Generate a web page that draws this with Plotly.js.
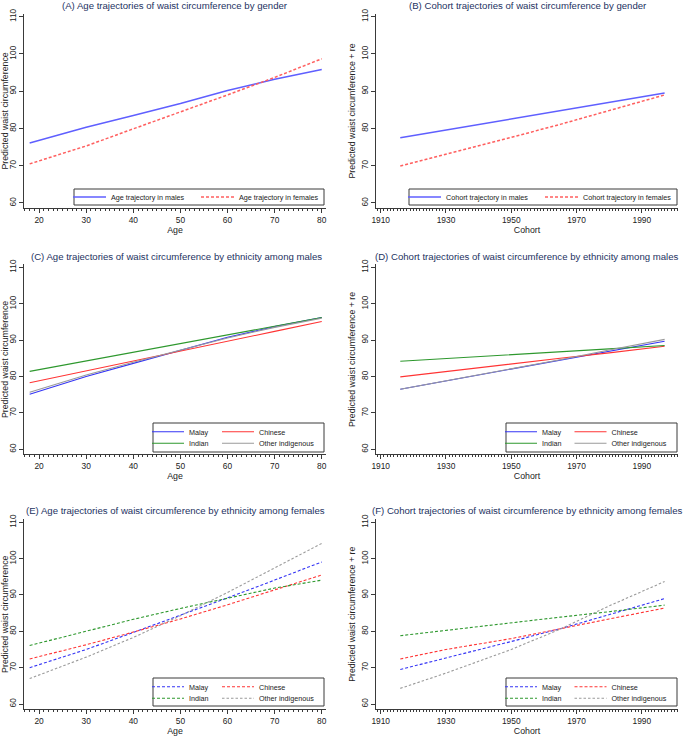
<!DOCTYPE html>
<html>
<head>
<meta charset="utf-8">
<script src="https://cdn.plot.ly/plotly-3.0.1.min.js"></script>
<style>html,body{margin:0;padding:0;background:#fff;}#chart{width:685px;height:739px;}</style>
</head>
<body>
<div id="chart"></div>
<script>
// ---------- data ----------
const ageX = [18, 30, 40, 50, 60, 70, 80];
const cohortX = [1916, 1930, 1950, 1965, 1980, 1997];

// (A) age trajectories by gender
const ageMales   = [76.1, 80.3, 83.5, 86.7, 90.2, 93.2, 95.8];
const ageFemales = [70.5, 75.3, 79.9, 84.4, 89.0, 93.7, 98.7];

// (B) cohort trajectories by gender
const cohortMales   = [77.5, 79.6, 82.5, 84.7, 87.0, 89.5];
const cohortFemales = [69.9, 73.0, 77.6, 81.1, 84.9, 89.0];

// (C) age trajectories by ethnicity, males
const ageMalayM   = [75.1, 80.0, 83.6, 87.1, 90.8, 93.7, 96.2];
const ageChineseM = [78.3, 81.6, 84.3, 87.0, 89.7, 92.4, 95.1];
const ageIndianM  = [81.4, 84.3, 86.7, 89.0, 91.4, 93.8, 96.2];
const ageOtherM   = [75.7, 80.4, 83.9, 87.2, 90.6, 93.5, 96.0];

// (D) cohort trajectories by ethnicity, males
const cohMalayM   = [76.5, 78.8, 82.0, 84.5, 86.9, 89.7];
const cohChineseM = [79.9, 81.4, 83.4, 85.0, 86.5, 88.3];
const cohIndianM  = [84.2, 84.9, 86.0, 86.8, 87.6, 88.5];
const cohOtherM   = [76.5, 78.8, 82.0, 84.6, 87.3, 90.2];

// (E) age trajectories by ethnicity, females
const ageMalayF   = [70.0, 75.0, 79.7, 84.4, 89.2, 94.1, 99.1];
const ageChineseF = [72.4, 76.3, 79.8, 83.4, 87.3, 91.3, 95.5];
const ageIndianF  = [76.1, 80.0, 83.3, 86.3, 89.2, 91.9, 94.1];
const ageOtherF   = [67.0, 72.9, 78.3, 84.3, 90.7, 97.4, 104.2];

// (F) cohort trajectories by ethnicity, females
const cohMalayF   = [69.5, 72.6, 77.2, 80.7, 84.6, 89.0];
const cohChineseF = [72.4, 75.0, 78.0, 80.6, 83.4, 86.4];
const cohIndianF  = [78.8, 80.3, 82.3, 83.9, 85.4, 87.2];
const cohOtherF   = [64.3, 68.5, 75.0, 80.6, 87.0, 93.7];

const ageTicks = [20, 30, 40, 50, 60, 70, 80];
const cohortTicks = [1910, 1930, 1950, 1970, 1990];
const yTicks = [60, 70, 80, 90, 100, 110];

const panelTitles = [
  "(A) Age trajectories of waist circumference by gender",
  "(B) Cohort trajectories of waist circumference by gender",
  "(C) Age trajectories of waist circumference by ethnicity among males",
  "(D) Cohort trajectories of waist circumference by ethnicity among males",
  "(E) Age trajectories of waist circumference by ethnicity among females",
  "(F) Cohort trajectories of waist circumference by ethnicity among females"
];
const ethnicNames = ["Malay", "Chinese", "Indian", "Other indigenous"];
const genderAgeNames = ["Age trajectory in males", "Age trajectory in females"];
const genderCohNames = ["Cohort trajectory in males", "Cohort trajectory in females"];
const yTitleAge = "Predicted waist circumference";
const yTitleCoh = "Predicted waist circumference + re";

// ---------- styling ----------
const W = 685, H = 739;
const FONT = "Liberation Sans, Arial, Helvetica, sans-serif";
const ethColors = ["#3535f5", "#ff3434", "#2e982e", "#9a9a9a"];
const AXC = "#3a3a3a";

function tr(x, y, name, color, dash, width, n, legend) {
  return {
    type: "scatter", mode: "lines", x: x, y: y, name: name,
    line: {color: color, dash: dash, width: width},
    xaxis: n === 1 ? "x" : "x" + n,
    yaxis: n === 1 ? "y" : "y" + n,
    legend: legend,
    hoverinfo: "skip"
  };
}

const traces = [];
traces.push(tr(ageX, ageMales, genderAgeNames[0], "#5f5fff", "solid", 1.5, 1, "legend"));
traces.push(tr(ageX, ageFemales, genderAgeNames[1], "#ff5f5f", "3px,2px", 1.5, 1, "legend"));
traces.push(tr(cohortX, cohortMales, genderCohNames[0], "#5f5fff", "solid", 1.5, 2, "legend2"));
traces.push(tr(cohortX, cohortFemales, genderCohNames[1], "#ff5f5f", "3px,2px", 1.5, 2, "legend2"));

const panelSeries = [
  [ageX, [ageMalayM, ageChineseM, ageIndianM, ageOtherM], false],
  [cohortX, [cohMalayM, cohChineseM, cohIndianM, cohOtherM], false],
  [ageX, [ageMalayF, ageChineseF, ageIndianF, ageOtherF], true],
  [cohortX, [cohMalayF, cohChineseF, cohIndianF, cohOtherF], true]
];
// one legend per ethnic entry so the 2x2 grid can be placed exactly
panelSeries.forEach((p, k) => {
  const n = k + 3;
  [0, 1, 2, 3].forEach(i => {
    const dash = p[2] ? (i === 3 ? "2.5px,2px" : "3px,2px") : "solid";
    traces.push(tr(p[0], p[1][i], ethnicNames[i], ethColors[i], dash, 1.1, n, "legend" + (3 + 4 * k + i)));
  });
});

// pixel boxes of the plot areas
const colsPx = [[24, 326], [376, 678]];
const rowsPx = [[13.7, 208.2], [264.4, 454.4], [519.4, 709.1]];
const ageRange = [16.8, 80.9];
const cohRange = [1908.56, 2001.1];
const yRange = [58.6, 110.8];

const layout = {
  width: W, height: H,
  margin: {l: 0, r: 0, t: 0, b: 0, pad: 0},
  paper_bgcolor: "#ffffff", plot_bgcolor: "#ffffff",
  font: {family: FONT, color: "#222222", size: 8.4},
  showlegend: true,
  annotations: [],
  shapes: []
};

function axisCommon() {
  return {
    showline: true, linecolor: AXC, linewidth: 1,
    ticks: "outside", ticklen: 4, tickwidth: 1, tickcolor: AXC,
    showgrid: false, zeroline: false, mirror: false, fixedrange: true,
    tickfont: {family: FONT, size: 8.4, color: "#222222"}
  };
}

for (let r = 0; r < 3; r++) {
  for (let c = 0; c < 2; c++) {
    const n = r * 2 + c + 1;
    const xk = n === 1 ? "xaxis" : "xaxis" + n;
    const yk = n === 1 ? "yaxis" : "yaxis" + n;
    const isAge = c === 0;
    const xa = axisCommon();
    xa.domain = [colsPx[c][0] / W, colsPx[c][1] / W];
    xa.range = isAge ? ageRange : cohRange;
    xa.tickmode = "array";
    xa.tickvals = isAge ? ageTicks : cohortTicks;
    xa.ticktext = xa.tickvals.map(String);
    xa.anchor = n === 1 ? "y" : "y" + n;
    xa.minor = {dtick: 1, tick0: 0, ticks: "outside", ticklen: 2, tickwidth: 1, tickcolor: AXC, showgrid: false};
    xa.title = {text: isAge ? "Age" : "Cohort", font: {family: FONT, size: 8.8, color: "#222222"}, standoff: 2};
    const ya = axisCommon();
    ya.domain = [1 - rowsPx[r][1] / H, 1 - rowsPx[r][0] / H];
    ya.range = yRange;
    ya.tickmode = "array";
    ya.tickvals = yTicks;
    ya.ticktext = yTicks.map(String);
    ya.tickangle = -90;
    ya.anchor = n === 1 ? "x" : "x" + n;
    ya.title = {text: isAge ? yTitleAge : yTitleCoh, font: {family: FONT, size: 8.8, color: "#222222"}, standoff: 2};
    layout[xk] = xa;
    layout[yk] = ya;
  }
}

// panel titles
const titlePos = [[175, 6], [528, 6], [176, 256], [527, 256], [175, 510.7], [527, 510.7]];
panelTitles.forEach((t, i) => {
  layout.annotations.push({
    text: t, xref: "paper", yref: "paper",
    x: titlePos[i][0] / W, y: 1 - titlePos[i][1] / H,
    xanchor: "center", yanchor: "middle", showarrow: false,
    font: {family: FONT, size: 9.6, color: "#24325f"}
  });
});

// legend frames (pixel boxes)
const legFrames = [[74, 189, 324, 205], [409, 189, 677, 205], [153, 423, 324, 452], [506, 423, 677, 452], [153, 678, 324, 706], [506, 678, 677, 706]];
legFrames.forEach(f => {
  layout.shapes.push({
    type: "rect", xref: "paper", yref: "paper", layer: "above",
    x0: f[0] / W, x1: f[2] / W, y0: 1 - f[3] / H, y1: 1 - f[1] / H,
    line: {color: AXC, width: 1}, fillcolor: "#ffffff"
  });
});

function makeLegend(xLeft, yMid, entryWidth, itemW) {
  const L = {
    orientation: "h",
    x: xLeft / W, xanchor: "left",
    y: 1 - yMid / H, yanchor: "middle",
    xref: "paper", yref: "paper",
    bgcolor: "rgba(0,0,0,0)", borderwidth: 0,
    itemwidth: itemW,
    font: {family: FONT, size: 7.2, color: "#222222"},
    itemclick: false, itemdoubleclick: false
  };
  if (entryWidth) { L.entrywidth = entryWidth; L.entrywidthmode = "pixels"; }
  return L;
}
layout.legend = makeLegend(68, 197, 80, 33);
layout.legend2 = makeLegend(403, 197, 89, 33);
// ethnic legends: [col1 x, col2 x] and [row1 y, row2 y] per panel
const ethLegPos = [
  [[147, 217], [431.7, 443.3]],
  [[500, 569.5], [431.7, 443.3]],
  [[147, 217], [686.7, 698.3]],
  [[500, 569.5], [686.7, 698.3]]
];
ethLegPos.forEach((p, k) => {
  [0, 1, 2, 3].forEach(i => {
    const colI = i % 2, rowI = Math.floor(i / 2);
    layout["legend" + (3 + 4 * k + i)] = makeLegend(p[0][colI], p[1][rowI], 0, 32);
  });
});

Plotly.newPlot("chart", traces, layout, {displayModeBar: false, staticPlot: true});
</script>
</body>
</html>
